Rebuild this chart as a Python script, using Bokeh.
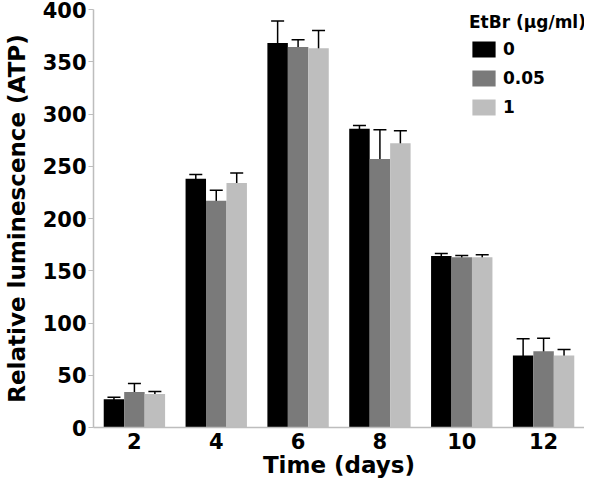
from bokeh.plotting import figure
from bokeh.models import ColumnDataSource, FactorRange, Range1d, Whisker, Legend, LegendItem, TeeHead
from bokeh.transform import dodge
from bokeh.embed import file_html
from bokeh.resources import INLINE

days = ["2", "4", "6", "8", "10", "12"]
atp_0 = [27, 238, 368, 286, 164, 69]
err_0 = [2, 4, 21, 3, 2.5, 16]
atp_005 = [34, 217, 364, 257, 163, 73]
err_005 = [8, 10, 7, 28, 1.5, 12.5]
atp_1 = [32, 234, 363, 272, 163, 69]
err_1 = [2.5, 9.5, 17, 12, 2.3, 5.7]
series_labels = ["0", "0.05", "1"]
y_ticks = [0, 50, 100, 150, 200, 250, 300, 350, 400]

colors = ["#000000", "#7a7a7a", "#bebebe"]
offsets = [-0.25, 0.0, 0.25]
FONT = "DejaVu Sans"

p = figure(width=584, height=480, x_range=FactorRange(factors=days, range_padding=0),
           y_range=Range1d(0, 400), output_backend="svg", toolbar_location=None,
           min_border_left=85, min_border_top=9, min_border_right=0, min_border_bottom=40)

items = []
for vals, errs, lab, col, off in zip([atp_0, atp_005, atp_1], [err_0, err_005, err_1],
                                     series_labels, colors, offsets):
    src = ColumnDataSource(dict(day=days, v=vals,
                                lo=[a - b for a, b in zip(vals, errs)],
                                hi=[a + b for a, b in zip(vals, errs)]))
    r = p.vbar(x=dodge("day", off, range=p.x_range), top="v", width=0.25, source=src,
               fill_color=col, line_color=None)
    items.append(LegendItem(label=lab, renderers=[r]))
    w = Whisker(base=dodge("day", off, range=p.x_range), lower="lo", upper="hi", source=src,
                line_color="#000000", line_width=1.5,
                upper_head=TeeHead(size=13, line_color="#000000", line_width=1.5),
                lower_head=TeeHead(size=13, line_color="#000000", line_width=1.5))
    p.add_layout(w)

legend = Legend(items=items, location=(376, 310), title="EtBr (µg/ml)",
                title_text_font=FONT, title_text_font_style="bold", title_text_font_size="17px",
                title_text_color="#000000", title_standoff=7,
                label_text_font=FONT, label_text_font_style="bold", label_text_font_size="17px",
                label_text_color="#000000",
                glyph_width=29, glyph_height=20, label_height=20, label_standoff=5,
                spacing=9, padding=0, margin=0,
                border_line_color=None, background_fill_alpha=0)
p.add_layout(legend)

p.xgrid.grid_line_color = None
p.ygrid.grid_line_color = None
p.outline_line_color = None

for ax in (p.xaxis[0], p.yaxis[0]):
    ax.axis_line_color = "#bdbdbd"
    ax.axis_line_width = 1.5
    ax.major_tick_line_color = "#bdbdbd"
    ax.minor_tick_line_color = None
    ax.major_label_text_font = FONT
    ax.major_label_text_font_style = "bold"
    ax.major_label_text_font_size = "21px"
    ax.major_label_text_color = "#000000"
    ax.axis_label_text_font = FONT
    ax.axis_label_text_font_style = "bold"
    ax.axis_label_text_font_size = "23px"
    ax.axis_label_text_color = "#000000"

p.yaxis.ticker = y_ticks
p.yaxis.major_tick_out = 5
p.yaxis.major_tick_in = 0
p.yaxis.major_label_standoff = 2
p.yaxis.axis_label = "Relative luminescence (ATP)"
p.yaxis.axis_label_standoff = 10

p.xaxis.major_tick_out = 0
p.xaxis.major_tick_in = 0
p.xaxis.major_label_standoff = 5
p.xaxis.axis_label = "Time (days)"
p.xaxis.axis_label_standoff = 0

open("out.html", "w").write(file_html(p, INLINE))
